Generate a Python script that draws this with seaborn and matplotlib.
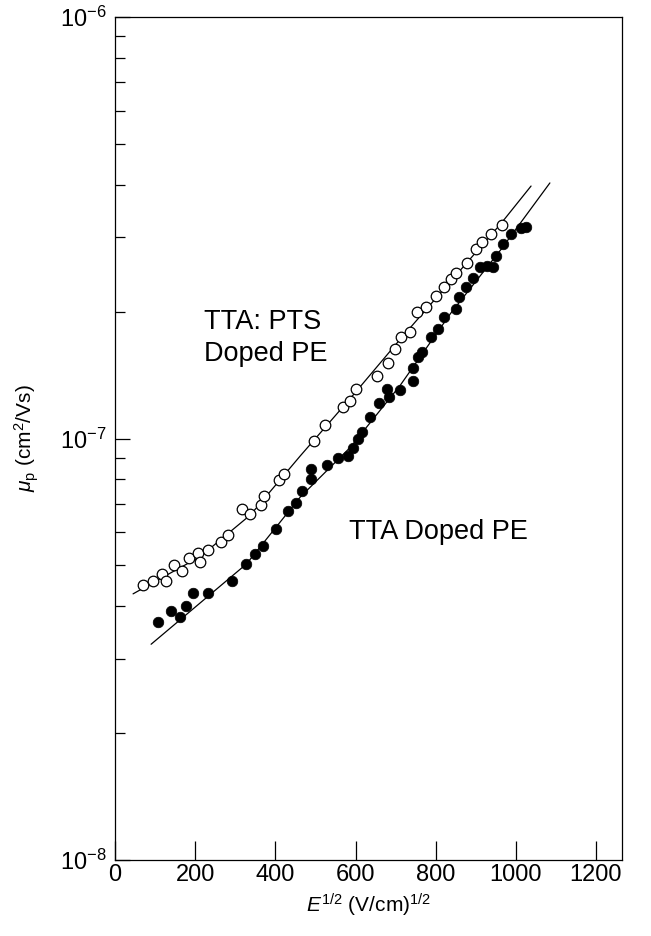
import numpy as np
import pandas as pd
import matplotlib
matplotlib.use("Agg")
import matplotlib.pyplot as plt
import matplotlib.ticker as mticker
import seaborn as sns

# ---- data ----
open_x = [69, 94, 117, 127, 147, 166, 185, 207, 212, 231, 264, 282, 318, 338, 363, 371,
          409, 421, 496, 524, 568, 586, 601, 653, 682, 699, 714, 736, 753, 776, 802, 821,
          838, 851, 877, 900, 915, 939, 965]
open_y = [4.49e-8, 4.58e-8, 4.76e-8, 4.58e-8, 5.02e-8, 4.85e-8, 5.21e-8, 5.36e-8, 5.09e-8,
          5.44e-8, 5.67e-8, 5.90e-8, 6.79e-8, 6.61e-8, 6.96e-8, 7.32e-8, 7.97e-8, 8.23e-8,
          9.89e-8, 1.076e-7, 1.190e-7, 1.229e-7, 1.312e-7, 1.409e-7, 1.508e-7, 1.628e-7,
          1.744e-7, 1.789e-7, 1.993e-7, 2.054e-7, 2.182e-7, 2.292e-7, 2.386e-7, 2.474e-7,
          2.613e-7, 2.811e-7, 2.931e-7, 3.051e-7, 3.210e-7]

filled_x = [108, 139, 161, 176, 194, 231, 292, 327, 349, 368, 402, 431, 452, 466, 489, 490,
            528, 557, 581, 593, 606, 616, 636, 659, 678, 684, 711, 743, 744, 757, 767, 789,
            806, 821, 850, 858, 875, 892, 911, 929, 943, 950, 968, 989, 1014, 1025]
filled_y = [3.67e-8, 3.90e-8, 3.78e-8, 4.00e-8, 4.30e-8, 4.30e-8, 4.59e-8, 5.04e-8, 5.31e-8,
            5.56e-8, 6.10e-8, 6.73e-8, 7.04e-8, 7.51e-8, 8.02e-8, 8.48e-8, 8.63e-8, 9.00e-8,
            9.11e-8, 9.51e-8, 9.97e-8, 1.039e-7, 1.122e-7, 1.212e-7, 1.311e-7, 1.257e-7,
            1.306e-7, 1.369e-7, 1.467e-7, 1.558e-7, 1.601e-7, 1.738e-7, 1.819e-7, 1.945e-7,
            2.028e-7, 2.170e-7, 2.284e-7, 2.399e-7, 2.556e-7, 2.566e-7, 2.548e-7, 2.710e-7,
            2.893e-7, 3.051e-7, 3.153e-7, 3.170e-7]

open_fit_x = [45, 125, 212, 338, 462, 588, 712, 838, 962, 1038]
open_fit_y = [4.28e-8, 4.72e-8, 5.24e-8, 6.59e-8, 9.09e-8, 1.248e-7, 1.722e-7, 2.364e-7,
              3.228e-7, 3.972e-7]

filled_fit_x = [90, 212, 328, 462, 588, 712, 838, 962, 1085]
filled_fit_y = [3.25e-8, 4.07e-8, 5.04e-8, 7.26e-8, 9.55e-8, 1.339e-7, 1.985e-7, 2.801e-7,
                4.04e-7]

x_ticks = [0, 200, 400, 600, 800, 1000, 1200]
y_ticks = [1e-8, 1e-7, 1e-6]

label_open = ["TTA: PTS", "Doped PE"]
label_filled = "TTA Doped PE"
x_label = r"$\mathit{E}^{1/2}$ (V/cm)$^{1/2}$"
y_label = r"$\mathit{\mu}_{\mathrm{p}}$ (cm$^{2}$/Vs)"

# ---- styling ----
sns.set_theme(style="ticks")
plt.rcParams["font.family"] = ["Liberation Sans", "DejaVu Sans"]
plt.rcParams["mathtext.fontset"] = "custom"
plt.rcParams["mathtext.rm"] = "Liberation Sans"
plt.rcParams["mathtext.it"] = "Liberation Sans:italic"
plt.rcParams["mathtext.bf"] = "Liberation Sans:bold"
plt.rcParams["text.color"] = "black"
plt.rcParams["axes.labelcolor"] = "black"
plt.rcParams["xtick.color"] = "black"
plt.rcParams["ytick.color"] = "black"

fig = plt.figure(figsize=(6.51, 9.36), dpi=100)
ax = fig.add_axes([0.1767, 0.0812, 0.9555 - 0.1767, 0.9818 - 0.0812])

df_open = pd.DataFrame({"x": open_x, "y": open_y})
df_filled = pd.DataFrame({"x": filled_x, "y": filled_y})
df_open_fit = pd.DataFrame({"x": open_fit_x, "y": open_fit_y})
df_filled_fit = pd.DataFrame({"x": filled_fit_x, "y": filled_fit_y})

sns.lineplot(data=df_open_fit, x="x", y="y", ax=ax, color="black", lw=0.9,
             sort=False, estimator=None)
sns.lineplot(data=df_filled_fit, x="x", y="y", ax=ax, color="black", lw=0.9,
             sort=False, estimator=None)
sns.scatterplot(data=df_open, x="x", y="y", ax=ax, marker="o", s=58,
                facecolor="white", edgecolor="black", linewidth=0.9, zorder=3)
sns.scatterplot(data=df_filled, x="x", y="y", ax=ax, marker="o", s=58,
                color="black", edgecolor="black", linewidth=0.5, zorder=3)

ax.set_yscale("log")
ax.set_xlim(0, 1265)
ax.set_ylim(1e-8, 1e-6)
ax.set_xticks(x_ticks)
ax.set_xticklabels([str(t) for t in x_ticks])
ax.xaxis.set_minor_locator(mticker.NullLocator())
ax.yaxis.set_major_locator(mticker.FixedLocator(y_ticks))
ax.yaxis.set_minor_locator(mticker.LogLocator(base=10, subs=np.arange(2, 10)))
ax.yaxis.set_minor_formatter(mticker.NullFormatter())

ax.tick_params(axis="x", which="major", direction="in", length=14, width=0.9,
               labelsize=17, pad=3)
ax.tick_params(axis="y", which="major", direction="in", length=11, width=0.9,
               labelsize=17, pad=6)
ax.tick_params(axis="y", which="minor", direction="in", length=7, width=0.9)

for sp in ax.spines.values():
    sp.set_visible(True)
    sp.set_color("black")
    sp.set_linewidth(0.9)

ax.set_xlabel(x_label, fontsize=15, labelpad=4)
ax.set_ylabel(y_label, fontsize=15, labelpad=14)

ax.text(222, 1.89e-7, label_open[0], fontsize=19.5, ha="left", va="center")
ax.text(222, 1.586e-7, label_open[1], fontsize=19.5, ha="left", va="center")
ax.text(585, 6.00e-8, label_filled, fontsize=19.5, ha="left", va="center")

fig.savefig("out.png", dpi=100, facecolor="white")
